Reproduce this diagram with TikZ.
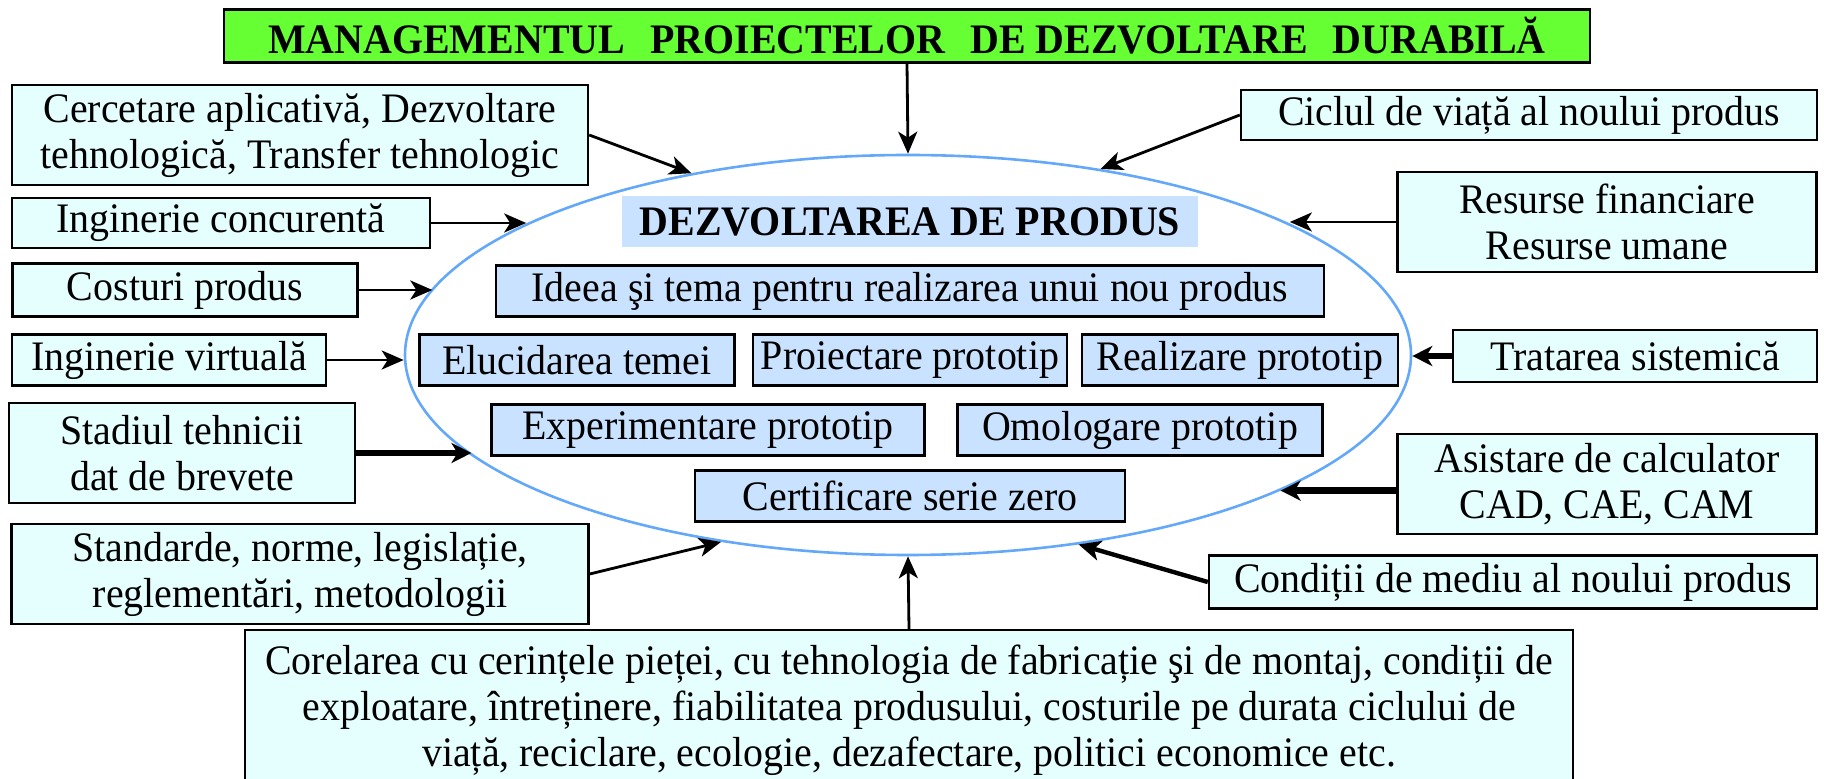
\documentclass[tikz,border=0pt]{standalone}
\usepackage{fontspec}
\setmainfont{Liberation Serif}[FakeStretch=0.95]
\usetikzlibrary{arrows.meta,shapes.geometric}
\definecolor{titlegreen}{RGB}{102,255,51}
\definecolor{outerfill}{RGB}{229,255,255}
\definecolor{innerfill}{RGB}{200,226,255}
\definecolor{ovalblue}{RGB}{100,168,250}

\begin{document}
\begin{tikzpicture}[
      x=0.5pt, y=-0.5pt,
      every node/.style={font=\fontsize{21pt}{23pt}\selectfont,align=center,inner sep=0pt},
      outer/.style={draw,line width=1.2pt,fill=outerfill},
      inner/.style={draw,line width=1.2pt,fill=innerfill,minimum height=25.5pt},
      link/.style={line width=1.4pt,-{Stealth[length=11pt,width=9.5pt,inset=3pt]}},
      midlink/.style={line width=2.2pt,-{Stealth[length=11pt,width=10pt,inset=3pt]}},
      biglink/.style={line width=3.2pt,-{Stealth[length=10pt,width=10pt,inset=3pt]}}
    ]
    \useasboundingbox (0,0) rectangle (1824,779);
    \clip (0,0) rectangle (1824,779);
    % Draw the title and the oval.
    \node[draw,line width=1.2pt,fill=titlegreen,minimum width=683pt,minimum height=26.5pt,
          font=\fontsize{21pt}{23pt}\selectfont\bfseries] (mgmt) at (907,36)
          {MANAGEMENTUL\hspace{.6em}PROIECTELOR\hspace{.6em}DE DEZVOLTARE\hspace{.6em}DURABILĂ};
    \node[ellipse,draw=ovalblue,line width=1.3pt,minimum width=503pt,minimum height=200pt] (oval) at (908,355) {};
    % Draw the stages inside the oval.
    \node[fill=innerfill,minimum width=288pt,minimum height=25.5pt,
          font=\fontsize{21pt}{23pt}\selectfont\bfseries] (product) at (910,222) {DEZVOLTAREA DE PRODUS};
    \node[inner,minimum width=414pt]   (idea)     at (910,291)  {Ideea şi tema pentru realizarea unui nou produs};
    \node[inner,minimum width=157.5pt] (theme)    at (577,360)  {Elucidarea temei};
    \node[inner,minimum width=157pt]   (design)   at (910,360)  {Proiectare prototip};
    \node[inner,minimum width=158pt]   (build)    at (1240,360) {Realizare prototip};
    \node[inner,minimum width=216.5pt] (testing)  at (708,430)  {Experimentare prototip};
    \node[inner,minimum width=182.5pt] (approval) at (1140,430) {Omologare prototip};
    \node[inner,minimum width=215pt]   (zero)     at (910,496)  {Certificare serie zero};
    % Draw the boxes on the left.
    \node[outer,minimum width=288pt,minimum height=50pt]     (research)   at (300,135) {Cercetare aplicativă, Dezvoltare\\tehnologică, Transfer tehnologic};
    \node[outer,minimum width=209pt,minimum height=25pt]     (concurrent) at (221,223) {Inginerie concurentă};
    \node[outer,minimum width=172.5pt,minimum height=26.5pt] (costs)      at (185,290) {Costuri produs};
    \node[outer,minimum width=157pt,minimum height=25.5pt]   (virtual)    at (169,360) {Inginerie virtuală};
    \node[outer,minimum width=173pt,minimum height=50pt]     (patents)    at (182,453) {Stadiul tehnicii\\dat de brevete};
    \node[outer,minimum width=288.5pt,minimum height=50pt]   (standards)  at (300,574) {Standarde, norme, legislație,\\reglementări, metodologii};
    % Draw the boxes on the right.
    \node[outer,minimum width=288pt,minimum height=25pt]     (lifecycle)   at (1529,115) {Ciclul de viață al noului produs};
    \node[outer,minimum width=209.5pt,minimum height=50pt]   (resources)   at (1607,222) {Resurse financiare\\Resurse umane};
    \node[outer,minimum width=182pt,minimum height=26pt]     (systemic)    at (1635,356) {Tratarea sistemică};
    \node[outer,minimum width=209.5pt,minimum height=50pt]   (computer)    at (1607,484) {Asistare de calculator\\CAD, CAE, CAM};
    \node[outer,minimum width=304pt,minimum height=26.5pt]   (environment) at (1513,582) {Condiții de mediu al noului produs};
    \node[outer,minimum width=664pt,minimum height=80pt]     (market)      at (909,710)
          {Corelarea cu cerințele pieței, cu tehnologia de fabricație şi de montaj, condiții de\\
           exploatare, întreținere, fiabilitatea produsului, costurile pe durata ciclului de\\
           viață, reciclare, ecologie, dezafectare, politici economice etc.};
    % Draw the arrows into the oval.
    \draw[link] (mgmt.south) -- (oval.north);
    \draw[link] (research.east) -- (oval.140);
    \draw[link] (concurrent.east) -- (concurrent.east -| oval.161);
    \draw[link] (costs.east) -- (costs.east -| oval.172);
    \draw[link] (virtual.east) -- (virtual.east -| oval.west);
    \draw[biglink] (patents.east) -- (patents.east -| oval.193);
    \draw[link] (standards.east) -- (oval.225);
    \draw[link] (market.north) -- (oval.south);
    \draw[midlink] (environment.west) -- (oval.312);
    \draw[biglink] (computer.west |- oval.340) -- (oval.340);
    \draw[biglink] (systemic.west) -- (systemic.west -| oval.east);
    \draw[link] (resources.west) -- (resources.west -| oval.19);
    \draw[link] (lifecycle.west) -- (oval.44);
\end{tikzpicture}
\end{document}
